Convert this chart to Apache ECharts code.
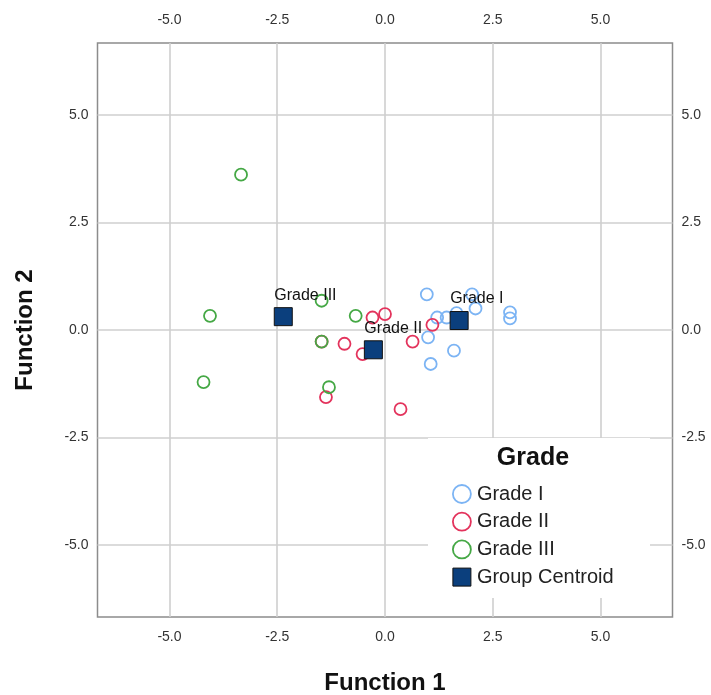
<!DOCTYPE html>
<html>
<head>
<meta charset="utf-8">
<script src="https://cdn.jsdelivr.net/npm/echarts@6/dist/echarts.min.js"></script>
<style>
  html, body { margin: 0; padding: 0; background: #fff; }
  #chart { width: 711px; height: 695px; }
</style>
</head>
<body>
<div id="chart"></div>
<script>
// Discriminant function scores per case (Function 1, Function 2)
const grade1X = [0.97, 2.02, 2.10, 2.90, 2.90, 1.21, 1.43, 1.66, 1.00, 1.60, 1.06];
const grade1Y = [0.83, 0.83, 0.50, 0.41, 0.27, 0.29, 0.29, 0.39, -0.17, -0.48, -0.79];

const grade2X = [-0.94, -1.37, -0.52, -0.29, -1.47, 0.00, 0.64, 1.10, 0.36];
const grade2Y = [-0.32, -1.56, -0.56, 0.29, -0.27, 0.37, -0.27, 0.12, -1.84];

const grade3X = [-3.34, -4.06, -4.21, -1.47, -0.68, -1.47, -1.30];
const grade3Y = [3.61, 0.33, -1.21, 0.68, 0.33, -0.27, -1.33];

// Group centroids
const centroidNames = ['Grade I', 'Grade II', 'Grade III'];
const centroidX = [1.72, -0.27, -2.36];
const centroidY = [0.22, -0.46, 0.31];

const tickValues = [-5, -2.5, 0, 2.5, 5];
const axisRange = 6.67;

const groupNames = ['Grade I', 'Grade II', 'Grade III'];
const groupColors = ['#7cb4f4', '#e3335c', '#45a845'];
const centroidFill = '#0b3f7d';
const FONT = '"Liberation Sans", Arial, sans-serif';

const zip = (xs, ys) => xs.map((x, i) => [x, ys[i]]);
const groupData = [zip(grade1X, grade1Y), zip(grade2X, grade2Y), zip(grade3X, grade3Y)];

function valueAxis(position, isMain) {
  return {
    type: 'value',
    position: position,
    min: -axisRange,
    max: axisRange,
    axisLine: { show: false },
    axisTick: { show: false, customValues: tickValues },
    axisLabel: {
      customValues: tickValues,
      formatter: v => v.toFixed(1),
      color: '#333',
      fontFamily: FONT,
      fontSize: 14,
      margin: position === 'top' ? 16 : (position === 'bottom' ? 13 : 9)
    },
    splitLine: isMain ? { show: true, lineStyle: { color: '#cfcfcf', width: 1.6 } } : { show: false }
  };
}

const chart = echarts.init(document.getElementById('chart'), null, { renderer: 'canvas' });

const series = groupNames.map((name, i) => ({
  name: name,
  type: 'scatter',
  xAxisIndex: 0,
  yAxisIndex: 0,
  symbol: 'circle',
  symbolSize: 12,
  itemStyle: { color: 'rgba(255,255,255,0)', borderColor: groupColors[i], borderWidth: 1.8, opacity: 1 },
  emphasis: { disabled: true },
  data: groupData[i]
}));

series.push({
  name: 'Group Centroid',
  type: 'scatter',
  xAxisIndex: 0,
  yAxisIndex: 0,
  symbol: 'rect',
  symbolSize: 18,
  z: 3,
  itemStyle: { color: centroidFill, borderColor: '#111', borderWidth: 1, opacity: 1 },
  label: {
    show: true,
    position: 'top',
    distance: 4,
    align: 'left',
    offset: [-9, 0],
    formatter: p => p.value[2],
    color: '#111',
    fontFamily: FONT,
    fontSize: 16
  },
  emphasis: { disabled: true },
  data: centroidX.map((x, i) => [x, centroidY[i], centroidNames[i]])
});

chart.setOption({
  animation: false,
  backgroundColor: '#fff',
  grid: {
    left: 97.5, right: 38.5, top: 43, bottom: 78,
    show: true, borderColor: '#8c8c8c', borderWidth: 1.5, backgroundColor: 'transparent'
  },
  xAxis: [valueAxis('bottom', true), valueAxis('top', false)],
  yAxis: [valueAxis('left', true), valueAxis('right', false)],
  graphic: [
    // white panel behind the legend
    { type: 'rect', shape: { x: 428, y: 438, width: 222, height: 160 }, style: { fill: '#fff' }, z: 3 },
    { type: 'text', x: 533, y: 458, z: 5,
      style: { text: 'Grade', fontFamily: FONT, fontSize: 25, fontWeight: 'bold', fill: '#111', align: 'center', verticalAlign: 'middle' } },
    { type: 'text', x: 385, y: 683, z: 5,
      style: { text: 'Function 1', fontFamily: FONT, fontSize: 24, fontWeight: 'bold', fill: '#111', align: 'center', verticalAlign: 'middle' } },
    { type: 'text', x: 25, y: 330, rotation: Math.PI / 2, z: 5,
      style: { text: 'Function 2', fontFamily: FONT, fontSize: 24, fontWeight: 'bold', fill: '#111', align: 'center', verticalAlign: 'middle' } }
  ],
  legend: {
    orient: 'vertical',
    left: 452,
    top: 484,
    z: 6,
    padding: 0,
    itemWidth: 18,
    itemHeight: 18,
    itemGap: 7.7,
    selectedMode: false,
    textStyle: { fontFamily: FONT, fontSize: 20, lineHeight: 20, color: '#222', padding: [0, 0, 0, 1] },
    data: [
      ...groupNames.map((n, i) => ({ name: n, icon: 'circle', itemStyle: { color: '#fff', borderColor: groupColors[i], borderWidth: 1.8 } })),
      { name: 'Group Centroid', icon: 'rect', itemStyle: { color: centroidFill, borderColor: '#111', borderWidth: 1, opacity: 1 } }
    ]
  },
  series: series
});
</script>
</body>
</html>
